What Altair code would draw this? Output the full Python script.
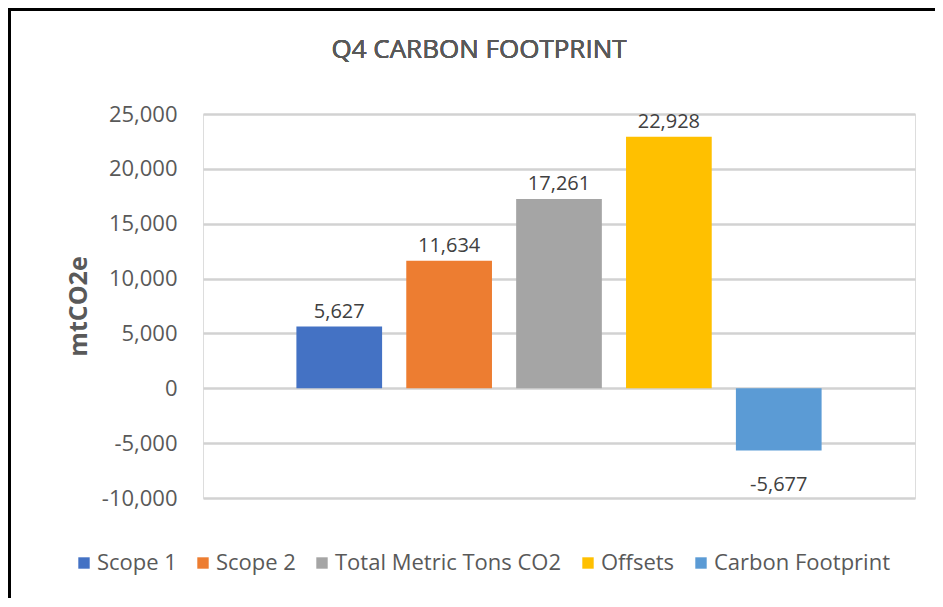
import altair as alt
import pandas as pd

categories = ["Scope 1", "Scope 2", "Total Metric Tons CO2", "Offsets", "Carbon Footprint"]
values = [5627, 11634, 17261, 22928, -5677]
colors = ["#4472C4", "#ED7D31", "#A5A5A5", "#FFC000", "#5B9BD5"]
y_ticks = [-10000, -5000, 0, 5000, 10000, 15000, 20000, 25000]
title_text = "Q4 CARBON FOOTPRINT"
y_title = "mtCO2e"

df = pd.DataFrame({"category": categories, "value": values})

FONT = "Open Sans"
GRAY = "#595959"
MINUS = "\u2212"

x_enc = alt.X("category:N", sort=categories, axis=None,
              scale=alt.Scale(paddingInner=0.22, paddingOuter=0.85))
y_enc = alt.Y("value:Q",
              scale=alt.Scale(domain=[-10000, 25000], nice=False, zero=True),
              axis=alt.Axis(values=y_ticks, title=y_title,
                            labelExpr=f"replace(format(datum.value, ','), '{MINUS}', '-')",
                            grid=True, gridColor="#D2D2D2", gridWidth=2.5,
                            domain=False, ticks=False,
                            labelFont=FONT, labelFontSize=22, labelColor=GRAY,
                            labelPadding=26,
                            titleFont=FONT, titleFontSize=25, titleFontWeight="bold",
                            titleColor=GRAY, titleAngle=-90, titleX=-125, titleY=192,
                            titleAlign="center", titleBaseline="middle"))

base = alt.Chart(df).transform_calculate(
    label=f"replace(format(datum.value, ','), '{MINUS}', '-')"
)

bars = base.mark_bar(strokeWidth=0).encode(
    x=x_enc,
    y=y_enc,
    color=alt.Color("category:N", sort=categories,
                    scale=alt.Scale(domain=categories, range=colors),
                    legend=alt.Legend(title=None, orient="none", direction="horizontal",
                                      columns=5, legendX=-130, legendY=438,
                                      symbolType="square", symbolSize=130,
                                      symbolStrokeWidth=0, labelOffset=2,
                                      columnPadding=15, labelLimit=500,
                                      labelFont=FONT, labelFontSize=22,
                                      labelColor=GRAY)),
)

pos_labels = base.transform_filter("datum.value >= 0").mark_text(
    baseline="alphabetic", dy=-9, font=FONT, fontSize=20, color="#404040"
).encode(x=x_enc, y=y_enc, text="label:N")

neg_labels = base.transform_filter("datum.value < 0").mark_text(
    baseline="alphabetic", dy=40, font=FONT, fontSize=20, color="#404040"
).encode(x=x_enc, y=y_enc, text="label:N")

title = alt.Chart(df).mark_text(
    font=FONT, fontSize=26, color=GRAY, baseline="alphabetic", align="center"
).encode(x=alt.value(276), y=alt.value(-56), text=alt.value(title_text))

border_left = alt.Chart(df).mark_rule(color="black", strokeWidth=3).encode(
    x=alt.value(-193.5), y=alt.value(-106), y2=alt.value(500))
border_top = alt.Chart(df).mark_rule(color="black", strokeWidth=3).encode(
    x=alt.value(-195), x2=alt.value(740), y=alt.value(-104.5))

chart = alt.layer(bars, pos_labels, neg_labels, title, border_left, border_top).properties(
    width=712, height=384,
    autosize=alt.AutoSizeParams(type="none"),
    padding={"left": 195, "top": 106, "right": 20, "bottom": 100},
).configure_view(stroke=None).configure(background="white")

chart.save("out.html", embed_options={"renderer": "svg", "actions": False})
